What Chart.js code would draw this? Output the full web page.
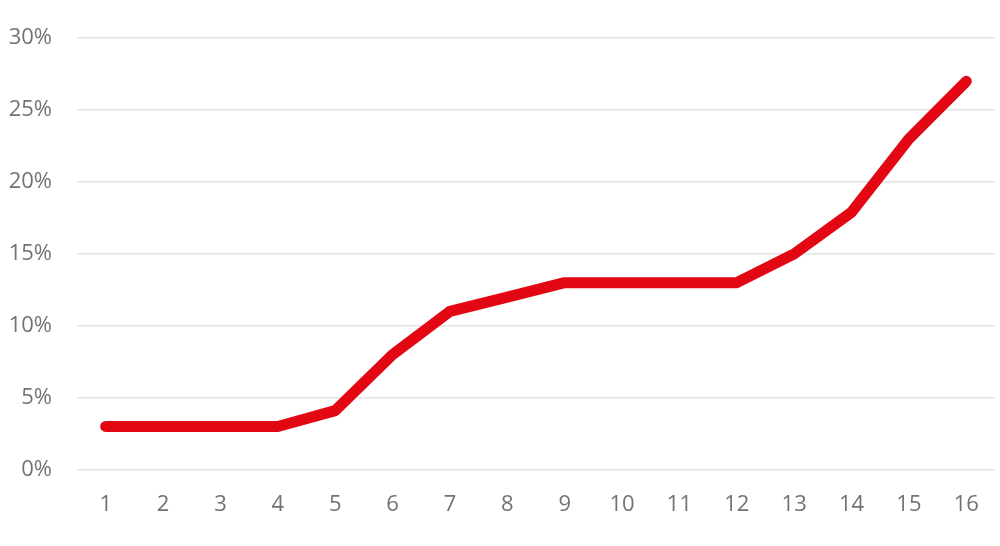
<!DOCTYPE html>
<html>
<head>
<meta charset="utf-8">
<script src="https://cdn.jsdelivr.net/npm/chart.js@4/dist/chart.umd.min.js"></script>
<style>
  html, body { margin: 0; padding: 0; background: #fff; }
  #wrap { width: 1000px; height: 546px; }
</style>
</head>
<body>
<div id="wrap"><canvas id="chart"></canvas></div>
<script>
const categories = ['1', '2', '3', '4', '5', '6', '7', '8', '9', '10', '11', '12', '13', '14', '15', '16'];
const values = [3, 3, 3, 3, 4.1, 8, 11, 12, 13, 13, 13, 13, 15, 17.9, 23, 27];
const yTicks = [0, 5, 10, 15, 20, 25, 30];

const RED = '#e30613';
const TEXT = '#737373';
const GRID = '#e4e4e4';

const ctx = document.getElementById('chart').getContext('2d');
new Chart(ctx, {
    type: 'line',
    data: {
        labels: categories,
        datasets: [
            {
                data: values,
                borderColor: RED,
                backgroundColor: RED,
                borderWidth: 11,
                borderCapStyle: 'round',
                borderJoinStyle: 'round',
                pointRadius: 0,
                tension: 0,
                fill: false,
            },
        ],
    },
    options: {
        responsive: true,
        maintainAspectRatio: false,
        animation: false,
        layout: {
            padding: { top: 29, right: 5, bottom: 14, left: 0 },
        },
        plugins: {
            legend: { display: false },
            tooltip: { enabled: false },
        },
        scales: {
            x: {
                offset: true,
                grid: { display: false },
                border: { display: false },
                ticks: {
                    color: TEXT,
                    font: { family: 'Open Sans', size: 22 },
                    padding: 14,
                    maxRotation: 0,
                },
            },
            y: {
                min: 0,
                max: 30,
                afterBuildTicks(axis) {
                    axis.ticks = yTicks.map((v) => ({ value: v }));
                },
                afterFit(axis) {
                    axis.width = 77;
                },
                grid: { color: GRID, lineWidth: 1.5, drawTicks: false },
                border: { display: false },
                ticks: {
                    color: TEXT,
                    font: { family: 'Open Sans', size: 22 },
                    padding: 25,
                    callback: (v) => v + '%',
                },
            },
        },
    },
});
</script>
</body>
</html>
